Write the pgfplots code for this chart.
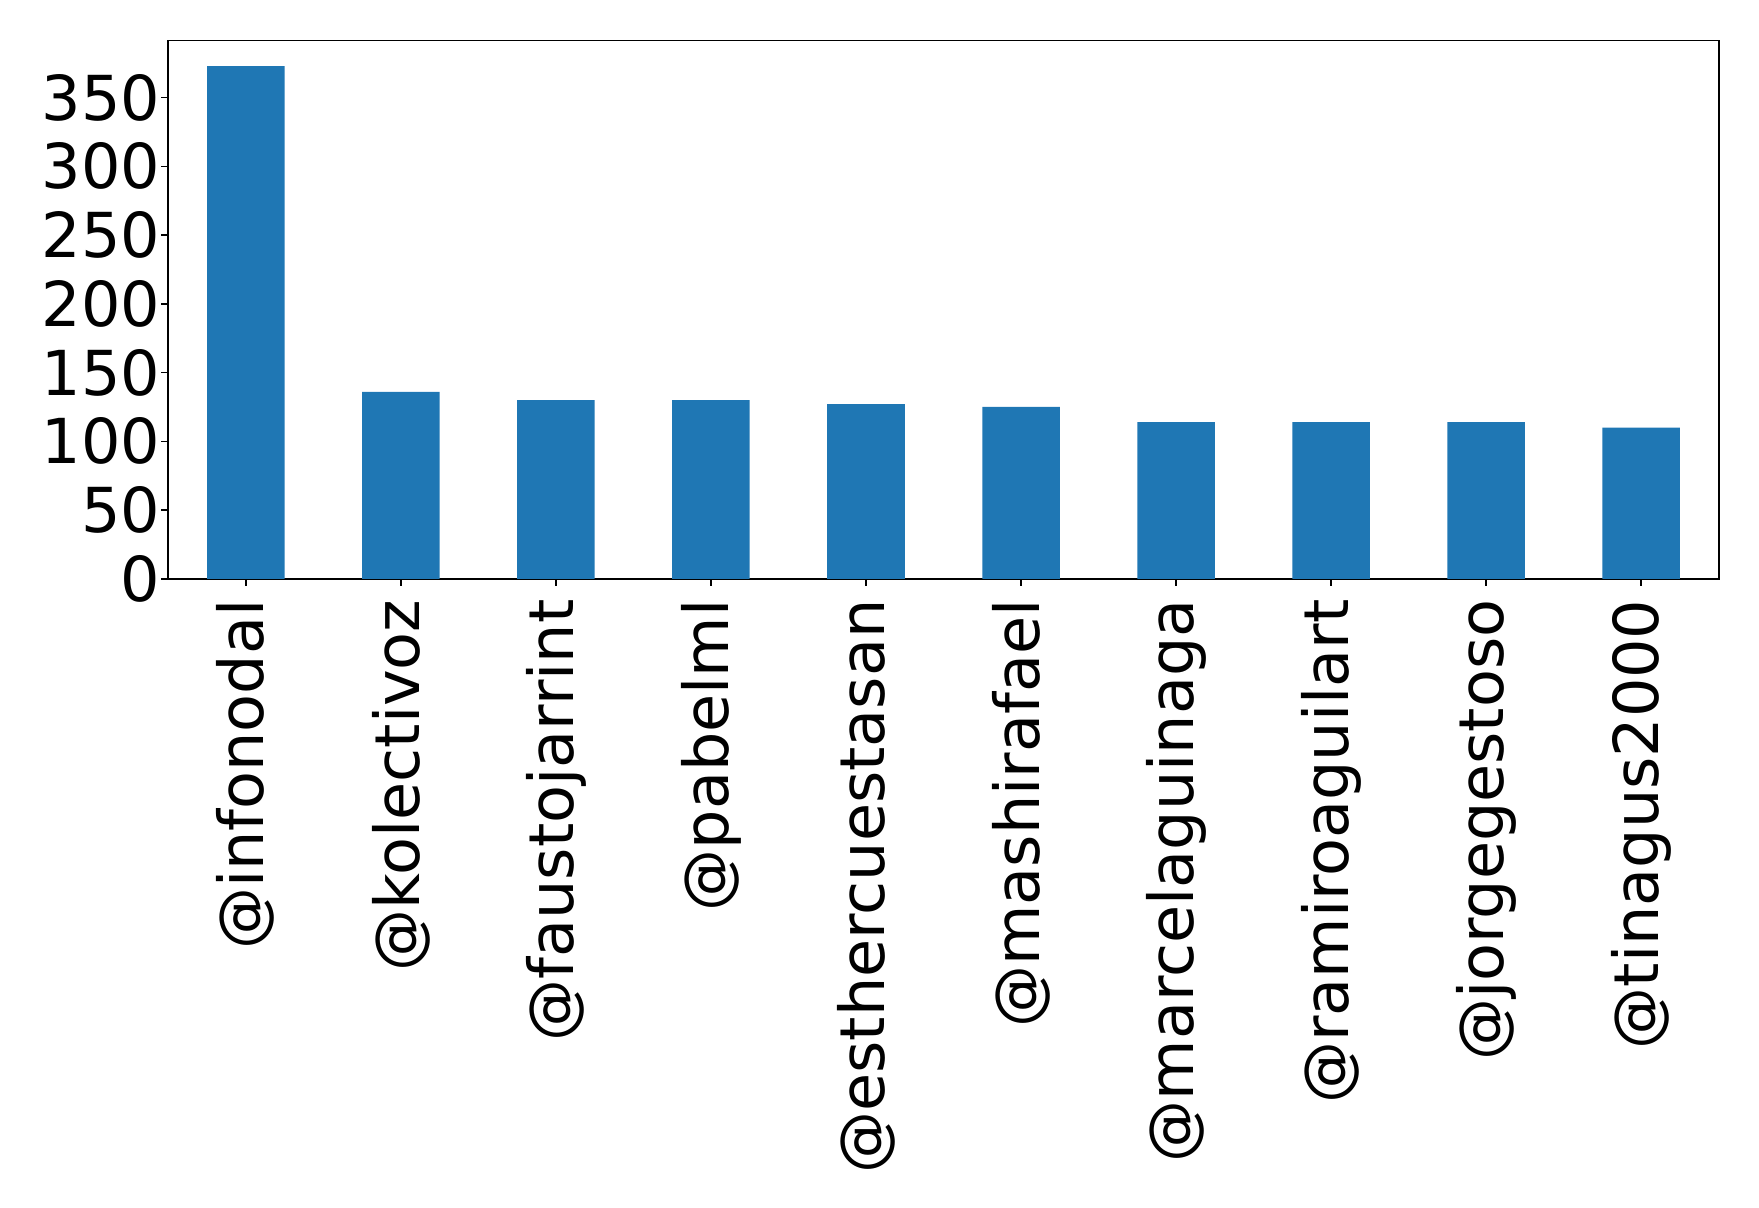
\documentclass[border=0pt]{standalone}
\usepackage{pgfplots}
\pgfplotsset{compat=1.18}
\usepackage{fontspec}
\setmainfont{DejaVu Sans}
\definecolor{mplblue}{HTML}{1F77B4}
\begin{document}
\begin{tikzpicture}
\path[use as bounding box] (-84.15pt,-314.1pt) rectangle (795.35pt,289.4pt);
\begin{axis}[
  at={(0,0)}, anchor=south west,
  scale only axis,
  width=775.2pt, height=269.2pt,
  xmin=-0.5, xmax=9.5, ymin=0, ymax=391.65,
  ytick={0,50,100,150,200,250,300,350},
  xtick={0,1,2,3,4,5,6,7,8,9},
  xticklabels={@infonodal,@kolectivoz,@faustojarrint,@pabelml,@esthercuestasan,@mashirafael,@marcelaguinaga,@ramiroaguilart,@jorgegestoso,@tinagus2000},
  tick align=outside,
  tick pos=left,
  major tick length=3.5pt,
  axis line style={line width=0.8pt},
  every tick/.style={black, line width=0.8pt},
  /pgf/number format/assume math mode=true,
  tick label style={font=\fontsize{31}{37}\selectfont, inner sep=0pt},
  yticklabel style={xshift=-0.3pt},
  xticklabel style={rotate=90, anchor=east},
  xticklabel shift=6.7pt,
  ybar, bar width=0.5,
]
\addplot[fill=mplblue, draw=none] coordinates {
(0,373) (1,136) (2,130) (3,130) (4,127) (5,125) (6,114) (7,114) (8,114) (9,110)
};
\end{axis}
\end{tikzpicture}
\end{document}
